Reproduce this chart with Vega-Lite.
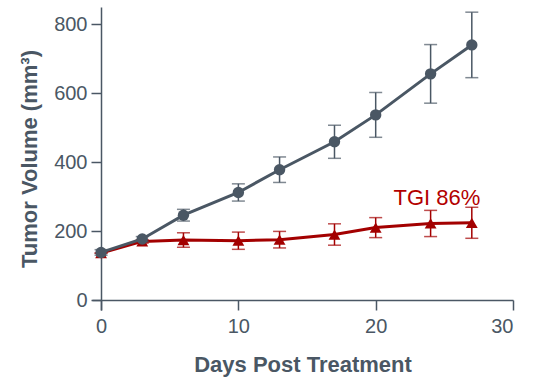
{
  "$schema": "https://vega.github.io/schema/vega-lite/v6.json",
  "width": 421,
  "height": 303,
  "autosize": {"type": "none"},
  "padding": {"left": 92, "top": 7, "right": 21, "bottom": 70},
  "background": "white",
  "config": {
    "view": {"stroke": null},
    "font": "Liberation Sans",
    "axis": {
      "domainColor": "#4a5764", "tickColor": "#4a5764", "labelColor": "#4a5764", "titleColor": "#4a5764",
      "domainWidth": 1.5, "tickWidth": 1.5, "tickSize": 10, "grid": false,
      "labelFont": "Liberation Sans", "titleFont": "Liberation Sans",
      "labelFontSize": 20, "titleFontSize": 22, "titleFontWeight": "bold"
    }
  },
  "datasets": {
    "tumor": [
      {"day": 0, "mean": 138, "lo": 130, "hi": 146, "group": "Control"},
      {"day": 3, "mean": 177, "lo": 170, "hi": 184, "group": "Control"},
      {"day": 6, "mean": 246, "lo": 229, "hi": 263, "group": "Control"},
      {"day": 10, "mean": 312, "lo": 287, "hi": 337, "group": "Control"},
      {"day": 13, "mean": 378, "lo": 341, "hi": 415, "group": "Control"},
      {"day": 17, "mean": 459, "lo": 411, "hi": 507, "group": "Control"},
      {"day": 20, "mean": 537, "lo": 472, "hi": 602, "group": "Control"},
      {"day": 24, "mean": 656, "lo": 571, "hi": 741, "group": "Control"},
      {"day": 27, "mean": 740, "lo": 645, "hi": 835, "group": "Control"},
      {"day": 0, "mean": 136, "lo": 136, "hi": 136, "group": "Treated"},
      {"day": 3, "mean": 170, "lo": 165, "hi": 175, "group": "Treated"},
      {"day": 6, "mean": 174, "lo": 153, "hi": 195, "group": "Treated"},
      {"day": 10, "mean": 172, "lo": 147, "hi": 197, "group": "Treated"},
      {"day": 13, "mean": 175, "lo": 151, "hi": 199, "group": "Treated"},
      {"day": 17, "mean": 190, "lo": 159, "hi": 221, "group": "Treated"},
      {"day": 20, "mean": 210, "lo": 181, "hi": 239, "group": "Treated"},
      {"day": 24, "mean": 222, "lo": 184, "hi": 260, "group": "Treated"},
      {"day": 27, "mean": 224, "lo": 179, "hi": 269, "group": "Treated"}
    ],
    "label": [{"day": 21.3, "vol": 276, "text": "TGI 86%"}]
  },
  "encoding": {
    "x": {"field": "day", "type": "quantitative",
      "scale": {"domain": [-0.66, 30], "nice": false, "zero": false},
      "axis": {"values": [0, 10, 20, 30], "title": "Days Post Treatment", "offset": -10, "labelPadding": 6, "titlePadding": 18}},
    "y": {"type": "quantitative",
      "scale": {"domain": [-29, 850], "nice": false, "zero": false},
      "axis": {"values": [0, 200, 400, 600, 800], "title": "Tumor Volume (mm³)", "offset": -9, "labelPadding": 4, "titlePadding": 12}}
  },
  "layer": [
    {
      "data": {"name": "tumor"},
      "transform": [{"filter": "datum.group === 'Treated'"}],
      "layer": [
        {"mark": {"type": "rule", "color": "#a30000", "strokeWidth": 1.5}, "encoding": {"y": {"field": "lo", "type": "quantitative"}, "y2": {"field": "hi"}}},
        {"mark": {"type": "tick", "color": "#a30000", "size": 13, "thickness": 1.5, "orient": "horizontal"}, "encoding": {"y": {"field": "lo", "type": "quantitative"}}},
        {"mark": {"type": "tick", "color": "#a30000", "size": 13, "thickness": 1.5, "orient": "horizontal"}, "encoding": {"y": {"field": "hi", "type": "quantitative"}}},
        {"mark": {"type": "line", "color": "#a30000", "strokeWidth": 3}, "encoding": {"y": {"field": "mean", "type": "quantitative"}}},
        {"mark": {"type": "point", "shape": "triangle-up", "filled": true, "color": "#a30000", "size": 140, "opacity": 1}, "encoding": {"y": {"field": "mean", "type": "quantitative"}}}
      ]
    },
    {
      "data": {"name": "tumor"},
      "transform": [{"filter": "datum.group === 'Control'"}],
      "layer": [
        {"mark": {"type": "rule", "color": "#4a5764", "strokeWidth": 1.5}, "encoding": {"y": {"field": "lo", "type": "quantitative"}, "y2": {"field": "hi"}}},
        {"mark": {"type": "tick", "color": "#4a5764", "size": 13, "thickness": 1.5, "orient": "horizontal"}, "encoding": {"y": {"field": "lo", "type": "quantitative"}}},
        {"mark": {"type": "tick", "color": "#4a5764", "size": 13, "thickness": 1.5, "orient": "horizontal"}, "encoding": {"y": {"field": "hi", "type": "quantitative"}}},
        {"mark": {"type": "line", "color": "#4a5764", "strokeWidth": 3}, "encoding": {"y": {"field": "mean", "type": "quantitative"}}},
        {"mark": {"type": "point", "shape": "circle", "filled": true, "color": "#4a5764", "size": 130, "opacity": 1}, "encoding": {"y": {"field": "mean", "type": "quantitative"}}}
      ]
    },
    {
      "data": {"name": "label"},
      "mark": {"type": "text", "align": "left", "baseline": "alphabetic", "fontSize": 22, "color": "#b30000", "font": "Liberation Sans"},
      "encoding": {"y": {"field": "vol", "type": "quantitative"}, "text": {"field": "text"}}
    }
  ]
}
